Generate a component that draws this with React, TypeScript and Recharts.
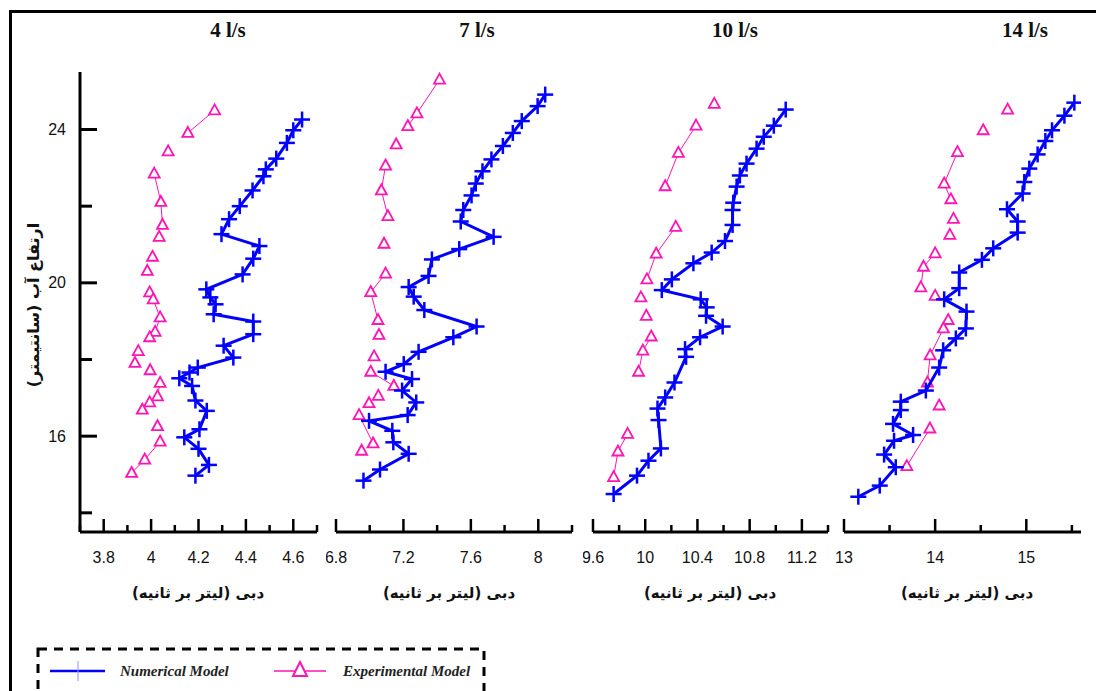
import React from 'react'
import { ScatterChart, Scatter, XAxis, YAxis } from 'recharts'

// [discharge (l/s), water height (cm)]
const num4: [number, number][] = [
  [4.637, 24.26], [4.6, 23.98], [4.573, 23.65], [4.528, 23.24], [4.484, 22.96], [4.474, 22.78],
  [4.428, 22.41], [4.374, 22.0], [4.329, 21.66], [4.297, 21.27], [4.457, 20.96], [4.431, 20.63],
  [4.386, 20.22], [4.233, 19.83], [4.25, 19.62], [4.272, 19.44], [4.264, 19.18], [4.431, 18.99],
  [4.431, 18.66], [4.306, 18.36], [4.347, 18.05], [4.197, 17.79], [4.162, 17.66], [4.119, 17.51],
  [4.173, 17.31], [4.187, 16.93], [4.235, 16.66], [4.204, 16.18], [4.14, 15.97], [4.2, 15.67],
  [4.244, 15.25], [4.187, 14.97],
]
const exp4: [number, number][] = [
  [4.268, 24.5], [4.155, 23.91], [4.072, 23.43], [4.013, 22.85], [4.041, 22.11], [4.048, 21.51],
  [4.034, 21.2], [4.006, 20.68], [3.984, 20.31], [3.994, 19.75], [4.009, 19.57], [4.038, 19.1],
  [4.017, 18.72], [3.994, 18.58], [3.946, 18.22], [3.932, 17.91], [3.996, 17.72], [4.038, 17.39],
  [4.027, 17.04], [3.994, 16.88], [3.963, 16.69], [4.027, 16.26], [4.038, 15.86], [3.973, 15.39],
  [3.918, 15.04],
]
const num7: [number, number][] = [
  [8.041, 24.91], [7.996, 24.61], [7.902, 24.22], [7.849, 23.91], [7.79, 23.57], [7.722, 23.22],
  [7.669, 22.91], [7.629, 22.59], [7.604, 22.28], [7.555, 21.9], [7.54, 21.6], [7.735, 21.2],
  [7.531, 20.88], [7.369, 20.61], [7.349, 20.18], [7.231, 19.89], [7.261, 19.64], [7.324, 19.29],
  [7.634, 18.86], [7.496, 18.58], [7.29, 18.2], [7.202, 17.88], [7.094, 17.68], [7.251, 17.49],
  [7.192, 17.19], [7.276, 16.88], [7.225, 16.55], [6.996, 16.4], [7.134, 16.14], [7.14, 15.84],
  [7.231, 15.54], [7.061, 15.13], [6.963, 14.84],
]
const exp7: [number, number][] = [
  [7.414, 25.3], [7.28, 24.42], [7.226, 24.09], [7.157, 23.61], [7.094, 23.06], [7.069, 22.41],
  [7.108, 21.74], [7.085, 21.02], [7.094, 20.24], [7.006, 19.76], [7.049, 19.03], [7.055, 18.64],
  [7.026, 18.08], [7.006, 17.68], [7.143, 17.31], [7.051, 17.05], [6.996, 16.86], [6.937, 16.55],
  [7.02, 15.81], [6.952, 15.62],
]
const num10: [number, number][] = [
  [11.076, 24.52], [10.985, 24.1], [10.908, 23.81], [10.853, 23.5], [10.776, 23.11], [10.725, 22.8],
  [10.7, 22.51], [10.674, 22.09], [10.669, 21.9], [10.669, 21.51], [10.611, 21.09], [10.509, 20.79],
  [10.369, 20.51], [10.204, 20.09], [10.127, 19.81], [10.425, 19.57], [10.471, 19.36], [10.466, 19.14],
  [10.593, 18.86], [10.42, 18.58], [10.305, 18.27], [10.313, 18.07], [10.224, 17.4], [10.153, 17.01],
  [10.094, 16.72], [10.102, 16.42], [10.12, 15.68], [10.025, 15.36], [9.937, 14.97], [9.758, 14.49],
]
const exp10: [number, number][] = [
  [10.529, 24.67], [10.389, 24.1], [10.254, 23.39], [10.153, 22.52], [10.234, 21.46], [10.084, 20.76],
  [10.013, 20.09], [9.967, 19.62], [10.008, 19.14], [10.046, 18.6], [9.982, 18.23], [9.949, 17.68],
  [9.865, 16.06], [9.791, 15.6], [9.758, 14.93],
]
const num14: [number, number][] = [
  [15.527, 24.7], [15.418, 24.36], [15.282, 23.98], [15.209, 23.7], [15.124, 23.35], [15.033, 22.98],
  [14.978, 22.63], [14.96, 22.33], [14.788, 21.92], [14.905, 21.6], [14.905, 21.31], [14.637, 20.9],
  [14.513, 20.6], [14.264, 20.27], [14.264, 19.86], [14.099, 19.57], [14.344, 19.25], [14.337, 18.81],
  [14.227, 18.55], [14.088, 18.24], [14.044, 17.79], [13.898, 17.19], [13.623, 16.9], [13.623, 16.68],
  [13.538, 16.32], [13.758, 16.03], [13.549, 15.88], [13.44, 15.52], [13.568, 15.19], [13.392, 14.71],
  [13.157, 14.42],
]
const exp14: [number, number][] = [
  [14.795, 24.52], [14.527, 23.98], [14.245, 23.41], [14.099, 22.59], [14.172, 22.18], [14.201, 21.67],
  [14.161, 21.25], [14.0, 20.77], [13.872, 20.42], [13.843, 19.88], [14.0, 19.66], [14.143, 19.03],
  [14.091, 18.81], [13.945, 18.11], [13.915, 17.4], [14.044, 16.8], [13.942, 16.2], [13.689, 15.22],
]

// index ranges of the experimental points that are joined by the thin line in the reference
const expLinks4 = [[0, 1], [3, 5], [9, 13], [17, 20], [22, 24]]
const expLinks7 = [[0, 2], [4, 6], [8, 10], [13, 14], [17, 18]]
const expLinks10 = [[1, 3], [4, 6], [9, 11], [12, 14]]
const expLinks14 = [[2, 4], [7, 9], [12, 14], [16, 17]]

const titles = ['4 l/s', '7 l/s', '10 l/s', '14 l/s']
const xTicks = [
  [3.7, 3.8, 3.9, 4, 4.1, 4.2, 4.3, 4.4, 4.5, 4.6, 4.7],
  [6.8, 7, 7.2, 7.4, 7.6, 7.8, 8, 8.2],
  [9.6, 9.8, 10, 10.2, 10.4, 10.6, 10.8, 11, 11.2, 11.4],
  [13, 13.5, 14, 14.5, 15, 15.5],
]
const xMajor = [
  [3.8, 4, 4.2, 4.4, 4.6],
  [6.8, 7.2, 7.6, 8],
  [9.6, 10, 10.4, 10.8, 11.2],
  [13, 14, 15],
]
const xDomains: [number, number][] = [[3.7, 4.7], [6.8, 8.2], [9.6, 11.4], [13, 15.6]]
const yTicks = [14, 16, 18, 20, 22, 24]
const yMajor = [16, 20, 24]
const yDomain: [number, number] = [13.5, 25.5]

const xTitle = 'دبی (لیتر بر ثانیه)'
const yTitle = 'ارتفاع آب (سانتیمتر)'

const BLUE = '#0000ff'
const PINK = '#ff14b4'

// plot-area placement of each panel (page pixels)
const panels = [
  { left: 80, right: 317, titleX: 228, labelX: 198 },
  { left: 336, right: 572, titleX: 477, labelX: 449 },
  { left: 593, right: 828, titleX: 735, labelX: 710 },
  { left: 844, right: 1081, titleX: 1025, labelX: 967 },
]
const PLOT_TOP = 72
const PLOT_BOTTOM = 532

const toPts = (arr: [number, number][]) => arr.map(([q, h]) => ({ q, h }))
const fmt = (v: number) => String(Number(v.toFixed(1)))
const isIn = (list: number[], v: number) => list.some((m) => Math.abs(m - v) < 1e-6)

function PlusShape(props: any) {
  const { cx, cy } = props
  if (cx == null || cy == null) return <g />
  return (
    <g>
      <line x1={cx - 8} x2={cx + 8} y1={cy} y2={cy} stroke={BLUE} strokeWidth={2.5} />
      <line x1={cx} x2={cx} y1={cy - 8} y2={cy + 8} stroke={BLUE} strokeWidth={2.5} />
    </g>
  )
}

function TriShape(props: any) {
  const { cx, cy } = props
  if (cx == null || cy == null) return <g />
  return (
    <path
      d={`M${cx},${cy - 6} L${cx + 5.5},${cy + 4} L${cx - 5.5},${cy + 4} Z`}
      fill="#fff"
      stroke={PINK}
      strokeWidth={1.8}
    />
  )
}

function XTick({ x, y, payload, majors }: any) {
  const v = payload.value as number
  const major = isIn(majors, v)
  return (
    <g>
      <line x1={x} x2={x} y1={y} y2={y - (major ? 13 : 7)} stroke="#000" strokeWidth={2.5} />
      {major && (
        <text
          x={x}
          y={y + 25}
          textAnchor="middle"
          dominantBaseline="central"
          fontFamily="'Liberation Sans', Arial, sans-serif"
          fontSize={16}
          fill="#111"
        >
          {fmt(v)}
        </text>
      )}
    </g>
  )
}

function YTick({ x, y, payload }: any) {
  const v = payload.value as number
  const major = isIn(yMajor, v)
  return (
    <g>
      <line x1={x} x2={x + (major ? 17 : 12)} y1={y} y2={y} stroke="#000" strokeWidth={3} />
      {major && (
        <text
          x={x - 14}
          y={y}
          textAnchor="end"
          dominantBaseline="central"
          fontFamily="'Liberation Sans', Arial, sans-serif"
          fontSize={16}
          fill="#111"
        >
          {v}
        </text>
      )}
    </g>
  )
}

const numSeries = [num4, num7, num10, num14]
const expSeries = [exp4, exp7, exp10, exp14]
const expLinks = [expLinks4, expLinks7, expLinks10, expLinks14]

function Panel({ i }: { i: number }) {
  const p = panels[i]
  const first = i === 0
  const chartLeft = first ? 0 : p.left - 10
  const width = p.right + 10 - chartLeft
  return (
    <div style={{ position: 'absolute', left: chartLeft, top: 0 }}>
      <ScatterChart
        width={width}
        height={PLOT_BOTTOM + 88}
        margin={{ top: PLOT_TOP, right: 10, bottom: 0, left: first ? 0 : 10 }}
      >
        <XAxis
          type="number"
          dataKey="q"
          domain={xDomains[i]}
          ticks={xTicks[i]}
          interval={0}
          allowDataOverflow
          height={88}
          tickSize={0}
          tickMargin={0}
          tickLine={false}
          axisLine={{ stroke: '#000', strokeWidth: 3 }}
          tick={(t: any) => <XTick {...t} majors={xMajor[i]} />}
        />
        {first ? (
          <YAxis
            type="number"
            dataKey="h"
            domain={yDomain}
            ticks={yTicks}
            interval={0}
            allowDataOverflow
            width={80}
            tickSize={0}
            tickMargin={0}
            tickLine={false}
            axisLine={{ stroke: '#000', strokeWidth: 3 }}
            tick={(t: any) => <YTick {...t} />}
          />
        ) : (
          <YAxis type="number" dataKey="h" domain={yDomain} allowDataOverflow hide width={0} />
        )}
        {expLinks[i].map(([a, b], k) => (
          <Scatter
            key={`link${k}`}
            data={toPts(expSeries[i].slice(a, b + 1))}
            line={{ stroke: PINK, strokeWidth: 1 }}
            lineType="joint"
            shape={() => <g />}
            isAnimationActive={false}
          />
        ))}
        <Scatter
          data={toPts(expSeries[i])}
          shape={(s: any) => <TriShape {...s} />}
          isAnimationActive={false}
        />
        <Scatter
          data={toPts(numSeries[i])}
          line={{ stroke: BLUE, strokeWidth: 3 }}
          lineType="joint"
          shape={(s: any) => <PlusShape {...s} />}
          isAnimationActive={false}
        />
      </ScatterChart>
    </div>
  )
}

const persian: React.CSSProperties = {
  position: 'absolute',
  fontFamily: "'DejaVu Sans', sans-serif",
  fontWeight: 'bold',
  color: '#111',
  whiteSpace: 'nowrap',
  direction: 'rtl',
}

export default function App() {
  return (
    <div style={{ position: 'absolute', left: 0, top: 0, width: 1096, height: 691, overflow: 'hidden', background: '#fff' }}>
      <svg width={1096} height={691} style={{ position: 'absolute', left: 0, top: 0 }}>
        <path d="M10.5,700 L10.5,11.5 L1100,11.5" fill="none" stroke="#000" strokeWidth={3} />
        {panels.map((p, i) => (
          <text
            key={i}
            x={p.titleX}
            y={37}
            textAnchor="middle"
            fontFamily="'Liberation Serif', 'Times New Roman', serif"
            fontWeight="bold"
            fontSize={21}
            fill="#111"
          >
            {titles[i]}
          </text>
        ))}
        <rect x={38} y={649} width={446} height={70} fill="none" stroke="#000" strokeWidth={3} strokeDasharray="9 7" />
        <line x1={50} x2={105} y1={671} y2={671} stroke={BLUE} strokeWidth={2.5} />
        <line x1={78} x2={78} y1={661} y2={681} stroke="#9090ff" strokeWidth={1} />
        <text x={120} y={676} fontFamily="'Liberation Serif', serif" fontStyle="italic" fontWeight="bold" fontSize={15} fill="#222">
          Numerical Model
        </text>
        <line x1={274} x2={326} y1={671} y2={671} stroke={PINK} strokeWidth={1.5} />
        <path d="M300,662 L307,676 L293,676 Z" fill="#fff" stroke={PINK} strokeWidth={2} />
        <text x={343} y={676} fontFamily="'Liberation Serif', serif" fontStyle="italic" fontWeight="bold" fontSize={15} fill="#222">
          Experimental Model
        </text>
      </svg>
      {[0, 1, 2, 3].map((i) => (
        <Panel key={i} i={i} />
      ))}
      {panels.map((p, i) => (
        <div key={i} style={{ ...persian, fontSize: 15, left: p.labelX, top: 593, transform: 'translate(-50%, -50%)' }}>
          {xTitle}
        </div>
      ))}
      <div style={{ ...persian, fontSize: 16, left: 33, top: 305, transform: 'translate(-50%, -50%) rotate(-90deg)' }}>
        {yTitle}
      </div>
    </div>
  )
}
